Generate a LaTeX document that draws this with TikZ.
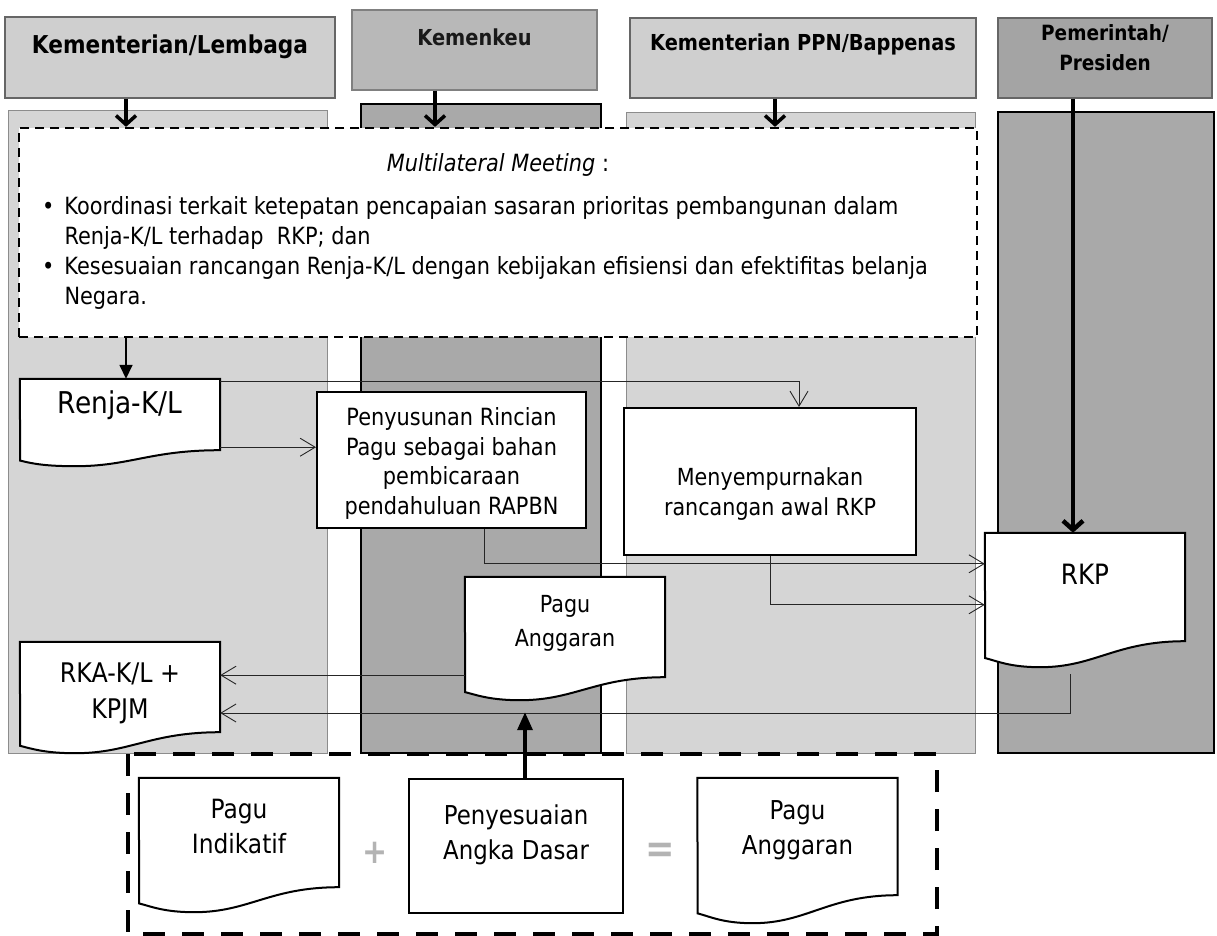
\documentclass[tikz,border=0pt]{standalone}
\usepackage{fontspec}
\setmainfont{DejaVu Sans}[FakeStretch=0.88]
\usepackage{tikz}
\usetikzlibrary{arrows.meta}
\definecolor{lanelight}{HTML}{D5D5D5}
\definecolor{lanedark}{HTML}{A9A9A9}
\definecolor{hdrlight}{HTML}{CFCFCF}
\definecolor{hdrmid}{HTML}{B8B8B8}
\definecolor{hdrdark}{HTML}{A4A4A4}
\definecolor{signgray}{HTML}{B3B3B3}
\pgfdeclarelayer{lanes}
\pgfdeclarelayer{docs}
\pgfsetlayers{lanes,docs,main}
\newcommand{\stk}[1]{\begin{tabular}[b]{@{}c@{}}#1\end{tabular}}

\begin{document}
\begin{tikzpicture}[x=1pt,y=-1pt,
  hdr/.style={draw=black!60,line width=1.5pt,inner sep=0pt,anchor=base},
  lanel/.style={fill=lanelight,draw=black!45,line width=0.8pt},
  laned/.style={fill=lanedark,draw=black,line width=1.6pt},
  docnode/.style={inner sep=0pt,minimum width=200pt,anchor=base},
  docline/.style={draw=black,fill=white,line width=2pt},
  procbox/.style={draw=black,fill=white,line width=2pt,inner sep=0pt,anchor=base},
  hdarrow/.style={line width=3.5pt,-{Straight Barb[length=9pt,width=20pt]}},
  conn/.style={line width=0.9pt,black!85,-{Straight Barb[length=15pt,width=18pt]}},
  mmarrow/.style={line width=1.6pt,-{Triangle[length=14pt,width=13pt]}},
  uparrow/.style={line width=3.5pt,-{Triangle[length=18pt,width=15pt]}}]
  \useasboundingbox (0,0) rectangle (1217,936);
  % lanes
  \begin{pgfonlayer}{lanes}
    \fill[white] (0,0) rectangle (1217,936);
    \draw[lanel] (8,110) rectangle (327,753);
    \draw[laned] (361,104) rectangle (601,753);
    \draw[lanel] (626,112) rectangle (975,753);
    \draw[laned,line width=2.5pt] (998,112) rectangle (1214,753);
  \end{pgfonlayer}
  % headers
  \node[hdr,fill=hdrlight,minimum width=330pt,text height=37pt,text depth=44pt,
    font=\fontsize{24.6}{28}\selectfont\bfseries] (hKL) at (170,54) {Kementerian/Lembaga};
  \node[hdr,fill=hdrmid,draw=black!50,minimum width=245pt,text height=36pt,text depth=44pt,
    text=black!90,font=\fontsize{22}{26}\selectfont\bfseries] (hKK) at (474.5,46) {Kemenkeu};
  \node[hdr,fill=hdrlight,minimum width=346pt,text height=33pt,text depth=47pt,
    font=\fontsize{22}{26}\selectfont\bfseries] (hPPN) at (803,51) {Kementerian PPN/Bappenas};
  \node[hdr,fill=hdrdark,minimum width=214pt,text height=52.7pt,text depth=27.3pt,
    font=\fontsize{21}{30}\selectfont\bfseries] (hPres) at (1105,70.7) {\stk{Pemerintah/\\Presiden}};
  % multilateral meeting
  \node[draw,fill=white,line width=2.2pt,dash pattern=on 9pt off 6pt,
    minimum width=958pt,minimum height=209pt,inner sep=0pt] (mm) at (498,232.5) {};
  \node[anchor=base,font=\fontsize{23.7}{30}\selectfont] (mmtitle) at (498,171.6)
    {\textit{Multilateral Meeting} :};
  \node[anchor=north west,inner sep=0pt,font=\fontsize{23.7}{30}\selectfont] (mmlist) at (42,193.5)
    {\begin{tabular}{@{}l@{\hspace{10pt}}l@{}}
      \textbullet & Koordinasi terkait ketepatan pencapaian sasaran prioritas pembangunan dalam\\
      & Renja-K/L terhadap\ \ RKP; dan\\
      \textbullet & Kesesuaian rancangan Renja-K/L dengan kebijakan efisiensi dan efektifitas belanja\\
      & Negara.
    \end{tabular}};
  % documents and steps
  \node[docnode,text height=34pt,text depth=37pt,font=\fontsize{30}{36}\selectfont] (renja) at (120,413) {Renja-K/L};
  \node[procbox,minimum width=269pt,text height=122pt,text depth=14pt,
    font=\fontsize{23.7}{29.5}\selectfont] (penyu) at (451.5,514)
    {\stk{Penyusunan Rincian\\Pagu sebagai bahan\\pembicaraan\\pendahuluan RAPBN}};
  \node[procbox,minimum width=292pt,text height=107.6pt,text depth=39.4pt,
    font=\fontsize{23.5}{30}\selectfont] (menyem) at (770,515.6) {\stk{Menyempurnakan\\rancangan awal RKP}};
  \node[docnode,text height=51pt,text depth=57pt,font=\fontsize{28}{34}\selectfont] (rkp) at (1085,584) {RKP};
  \node[docnode,text height=69pt,text depth=31pt,font=\fontsize{23.5}{34}\selectfont] (pagu) at (565,646) {\stk{Pagu\\Anggaran}};
  \node[docnode,text height=76pt,text depth=14pt,font=\fontsize{27}{36}\selectfont] (rka) at (120,718) {\stk{RKA-K/L +\\KPJM}};
  \node[docnode,text height=75pt,text depth=34pt,font=\fontsize{26.5}{35}\selectfont] (indik) at (239,853) {\stk{Pagu\\Indikatif}};
  \node[procbox,minimum width=214pt,text height=80.5pt,text depth=53.5pt,
    font=\fontsize{26}{35}\selectfont] (penyes) at (516,859.5) {\stk{Penyesuaian\\Angka Dasar}};
  \node[docnode,text height=76.5pt,text depth=40.5pt,font=\fontsize{26}{35}\selectfont] (anggr) at (797.5,854.5) {\stk{Pagu\\Anggaran}};
  \node[text=signgray,font=\fontsize{34}{34}\selectfont\bfseries] (plus) at (375,853) {+};
  \node[text=signgray,font=\fontsize{40}{40}\selectfont\bfseries] (eq) at (660,853) {=};
  % wavy document outlines
  \begin{pgfonlayer}{docs}
    \foreach \doc/\dep in {renja/16,rka/21,pagu/23,rkp/26,indik/25,anggr/28}
      \draw[docline] (\doc.north west) -- (\doc.north east) -- (\doc.south east)
        .. controls +(-70,0) and +(55,0) .. ++(-145,\dep)
        .. controls +(-30,0) and +(12,3) .. ++(-55,-0.35*\dep) -- cycle;
  \end{pgfonlayer}
  % bottom frame
  \draw[line width=4.5pt,dash pattern=on 22pt off 17pt] (128,754) rectangle (937,934);
  % header arrows
  \coordinate (klarr) at ([xshift=-44pt]hKL.south);
  \coordinate (kkarr) at ([xshift=-39.5pt]hKK.south);
  \coordinate (ppnarr) at ([xshift=-28pt]hPPN.south);
  \coordinate (presarr) at ([xshift=-32pt]hPres.south);
  \draw[hdarrow] (klarr) -- (klarr |- mm.north);
  \draw[hdarrow] (kkarr) -- (kkarr |- mm.north);
  \draw[hdarrow] (ppnarr) -- (ppnarr |- mm.north);
  \draw[hdarrow,line width=4.5pt] (presarr) -- (presarr |- rkp.north);
  \draw[mmarrow] (klarr |- mm.south) -- (klarr |- renja.north);
  % flow
  \coordinate (rn) at ([yshift=-3pt]renja.north east);
  \draw[conn] (rn) -| ([xshift=29pt]menyem.north);
  \coordinate (rs) at ([yshift=3pt]renja.south east);
  \draw[conn] (rs) -- (rs -| penyu.west);
  \draw[conn] ([xshift=32.5pt]penyu.south) |- ([yshift=-31pt]rkp.north west);
  \draw[conn] (menyem.south) |- ([yshift=-72pt]rkp.north west);
  \coordinate (pw) at ([yshift=2pt]pagu.south west);
  \draw[conn] (pw) -- (pw -| rka.east);
  \draw[conn] ([xshift=-15pt,yshift=-33pt]rkp.south) |- ([yshift=-26pt]rka.east);
  \coordinate (pp) at ([xshift=9pt]penyes.north);
  \coordinate (pagutip) at ([yshift=-35pt]pagu.south);
  \draw[uparrow] (pp) -- (pp |- pagutip);
\end{tikzpicture}
\end{document}
